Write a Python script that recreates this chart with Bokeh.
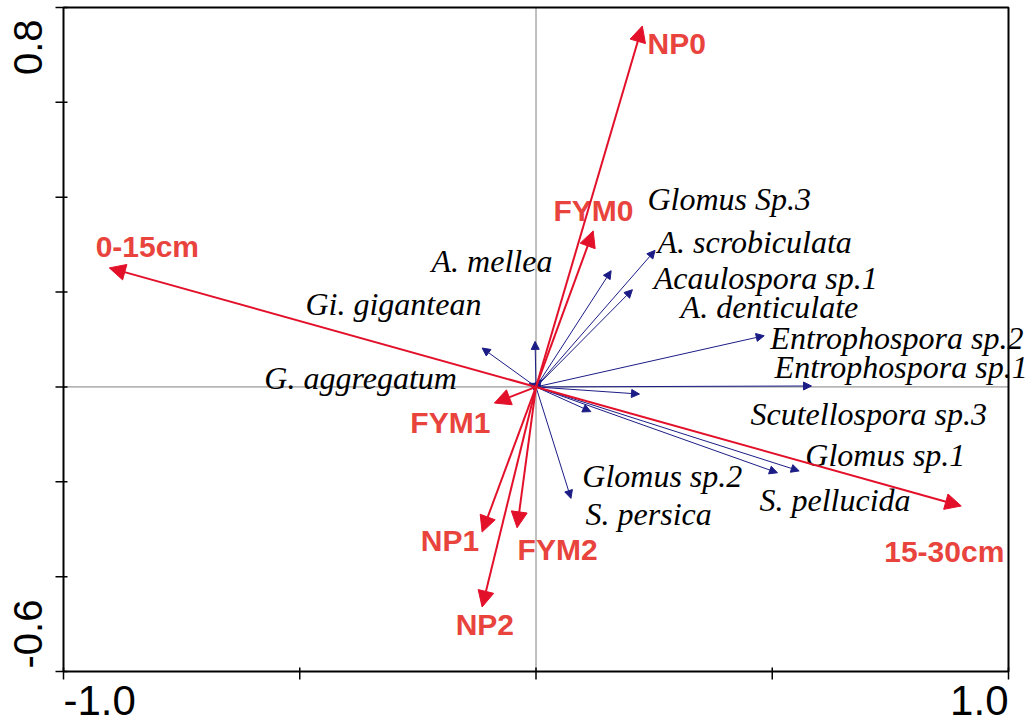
import math
from bokeh.plotting import figure
from bokeh.models import Arrow, NormalHead, ColumnDataSource, Range1d
from bokeh.core.properties import value
from bokeh.embed import file_html
from bokeh.resources import INLINE

# ---------------- data ----------------
x_ticks = [-1.0, -0.5, 0.0, 0.5, 1.0]
y_ticks = [-0.6, -0.4, -0.2, 0.0, 0.2, 0.4, 0.6, 0.8]
x_tick_labels = ["-1.0", "1.0"]
y_tick_labels = ["0.8", "-0.6"]

env_names = ["NP0", "FYM0", "0-15cm", "15-30cm", "FYM1", "NP1", "FYM2", "NP2"]
env_x = [0.225, 0.121, -0.903, 0.900, -0.088, -0.114, -0.040, -0.114]
env_y = [0.761, 0.329, 0.251, -0.251, -0.034, -0.306, -0.297, -0.464]
env_lab_x = [0.236, 0.037, -0.932, 0.737, -0.266, -0.244, -0.039, -0.170]
env_lab_y = [0.725, 0.371, 0.296, -0.347, -0.075, -0.324, -0.343, -0.501]

sp_names = ["Glomus Sp.3", "A. scrobiculata", "Acaulospora sp.1", "A. denticulate",
            "Entrophospora sp.2", "Entrophospora sp.1", "Scutellospora sp.3",
            "Glomus sp.1", "S. pellucida", "Glomus sp.2", "S. persica",
            "G. aggregatum", "Gi. gigantean", "A. mellea"]
sp_x = [0.159, 0.252, 0.204, 0.011, 0.483, 0.583, 0.219, 0.557, 0.511, 0.116, 0.074,
        -0.014, -0.114, -0.002]
sp_y = [0.245, 0.288, 0.205, 0.015, 0.108, 0.002, -0.015, -0.177, -0.181, -0.052, -0.235,
        0.008, 0.082, 0.096]
sp_lab_x = [0.236, 0.257, 0.249, 0.306, 0.496, 0.505, 0.454, 0.570, 0.473, 0.098, 0.105,
            -0.575, -0.488, -0.221]
sp_lab_y = [0.397, 0.305, 0.229, 0.168, 0.104, 0.041, -0.058, -0.144, -0.239, -0.187, -0.267,
            0.018, 0.174, 0.265]

RED = "#e3102a"
RED_TXT = "#e8433c"
BLUE = "#1c1c86"

# ---------------- layout (pixels) ----------------
W, H = 1034, 725
FL, FR, FT, FB = 63, 1008, 7, 671          # plot box edges in pixels
xmin, xmax = x_ticks[0], x_ticks[-1]
ymin, ymax = y_ticks[0], y_ticks[-1]
sx = (FR - FL) / (xmax - xmin)
sy = (FB - FT) / (ymax - ymin)
x_range = Range1d(xmin - FL / sx, xmax + (W - FR) / sx)
y_range = Range1d(ymin - (H - FB) / sy, ymax + FT / sy)

p = figure(width=W, height=H, x_range=x_range, y_range=y_range,
           output_backend="svg", toolbar_location=None,
           x_axis_location=None, y_axis_location=None, min_border=0)
p.xgrid.visible = False
p.ygrid.visible = False
p.outline_line_color = None
p.background_fill_color = "white"
p.border_fill_color = "white"

# dotted zero lines
p.segment(x0=[xmin, 0.0], y0=[0.0, ymin], x1=[xmax, 0.0], y1=[0.0, ymax],
          line_color="black", line_width=1, line_dash="1 1")

# box
p.quad(left=[xmin], right=[xmax], bottom=[ymin], top=[ymax], fill_color=None,
       line_color="black", line_width=2)

# ticks
t_out, t_in = 8, 4
p.segment(x0=x_ticks, x1=x_ticks, y0=[ymin - t_out / sy] * len(x_ticks),
          y1=[ymin + t_in / sy] * len(x_ticks), line_color="black", line_width=1.5)
p.segment(y0=y_ticks, y1=y_ticks, x0=[xmin - t_out / sx] * len(y_ticks),
          x1=[xmin + t_in / sx] * len(y_ticks), line_color="black", line_width=1.5)

# tick labels
lab_y = ymin - 29 / sy
p.text(x=[x_ticks[0]], y=[lab_y], text=[x_tick_labels[0]], text_align="left",
       text_baseline="middle", text_font=value("Liberation Sans"), text_font_size="42px",
       text_color="black")
p.text(x=[x_ticks[-1]], y=[lab_y], text=[x_tick_labels[1]], text_align="right",
       text_baseline="middle", text_font=value("Liberation Sans"), text_font_size="42px",
       text_color="black")
lab_x = xmin - 36 / sx
p.text(x=[lab_x], y=[ymax - 12 / sy], text=[y_tick_labels[0]], text_align="right",
       text_baseline="middle", angle=math.pi / 2, text_font=value("Liberation Sans"),
       text_font_size="40px", text_color="black")
p.text(x=[lab_x], y=[ymin + 3 / sy], text=[y_tick_labels[1]], text_align="left",
       text_baseline="middle", angle=math.pi / 2, text_font=value("Liberation Sans"),
       text_font_size="40px", text_color="black")

# species arrows
n = len(sp_x)
sp_src = ColumnDataSource(dict(x0=[0.0] * n, y0=[0.0] * n, x1=sp_x, y1=sp_y))
p.add_layout(Arrow(end=NormalHead(size=8, fill_color=BLUE, line_color=BLUE, line_width=1),
                   x_start="x0", y_start="y0", x_end="x1", y_end="y1", source=sp_src,
                   line_color=BLUE, line_width=1))

# environmental arrows
m = len(env_x)
env_src = ColumnDataSource(dict(x0=[0.0] * m, y0=[0.0] * m, x1=env_x, y1=env_y))
p.add_layout(Arrow(end=NormalHead(size=16, fill_color=RED, line_color=RED, line_width=1),
                   x_start="x0", y_start="y0", x_end="x1", y_end="y1", source=env_src,
                   line_color=RED, line_width=2))

# labels
sp_lsrc = ColumnDataSource(dict(x=sp_lab_x, y=sp_lab_y, t=sp_names))
p.text(x="x", y="y", text="t", source=sp_lsrc, text_align="left",
       text_baseline="middle", text_font=value("Liberation Serif"),
       text_font_style="italic", text_font_size="32px", text_color="black")
env_lsrc = ColumnDataSource(dict(x=env_lab_x, y=env_lab_y, t=env_names))
p.text(x="x", y="y", text="t", source=env_lsrc, text_align="left",
       text_baseline="middle", text_font=value("Liberation Sans"),
       text_font_style="bold", text_font_size="30px", text_color=RED_TXT)

open("out.html", "w").write(file_html(p, INLINE))
